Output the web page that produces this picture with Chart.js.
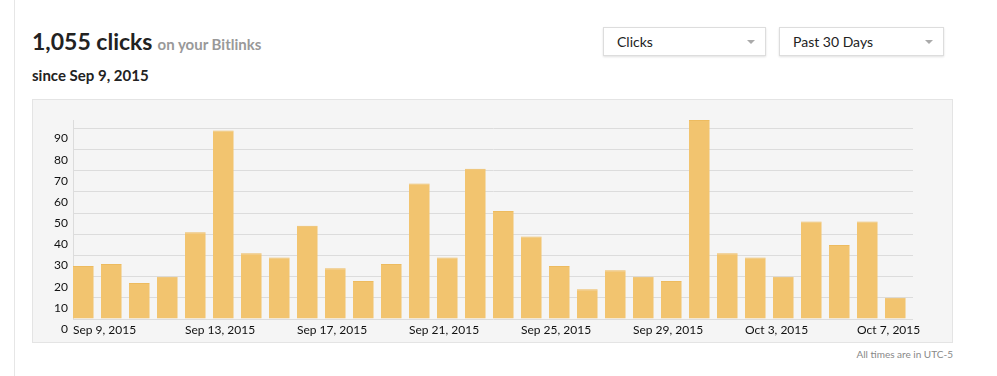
<!DOCTYPE html>
<html>
<head>
<meta charset="utf-8">
<script src="https://cdn.jsdelivr.net/npm/chart.js@4.4.0/dist/chart.umd.min.js"></script>
<style>
  body { margin: 0; background: #fff; font-family: Lato, "Open Sans", sans-serif; color: #222; }
  .rail { position: absolute; left: 14px; top: 0; width: 1px; height: 376px; background: #e6e6e6; }
  .title { position: absolute; left: 32px; top: 30px; line-height: 22px; white-space: nowrap; }
  .title b { font-size: 23px; font-weight: 700; color: #222; }
  .title span { font-size: 15px; font-weight: 700; color: #999; margin-left: 1px; }
  .since { position: absolute; left: 32px; top: 68px; font-size: 15px; line-height: 15px; font-weight: 700; }
  .drop { position: absolute; top: 27px; height: 29px; box-sizing: border-box; background: #fff;
          border: 1px solid #ddd; box-shadow: 0 1px 2px rgba(0,0,0,0.12); font-size: 14px;
          line-height: 27px; padding-left: 13px; }
  .drop:after { content: ""; position: absolute; right: 10px; top: 12px; border-left: 4px solid transparent;
          border-right: 4px solid transparent; border-top: 4px solid #aaa; }
  .panel { position: absolute; left: 32px; top: 99px; width: 921px; height: 244px; box-sizing: border-box;
           background: #f5f5f5; border: 1px solid #e4e4e4; }
  .panel canvas { position: absolute; left: 0; top: 0; }
  .note { position: absolute; right: 44px; top: 348px; font-size: 10px; color: #888; }
</style>
</head>
<body>
<div class="rail"></div>
<div class="title"><b>1,055 clicks</b> <span>on your Bitlinks</span></div>
<div class="since">since Sep 9, 2015</div>
<div class="drop" style="left:603px;width:163px">Clicks</div>
<div class="drop" style="left:779px;width:165px">Past 30 Days</div>
<div class="panel"><canvas id="clicks_chart" width="919" height="242"></canvas></div>
<div class="note">All times are in UTC-5</div>
<script>
// one bar per day, Sep 9 - Oct 8 2015
var days = ['Sep 9, 2015', 'Sep 10, 2015', 'Sep 11, 2015', 'Sep 12, 2015', 'Sep 13, 2015',
  'Sep 14, 2015', 'Sep 15, 2015', 'Sep 16, 2015', 'Sep 17, 2015', 'Sep 18, 2015',
  'Sep 19, 2015', 'Sep 20, 2015', 'Sep 21, 2015', 'Sep 22, 2015', 'Sep 23, 2015',
  'Sep 24, 2015', 'Sep 25, 2015', 'Sep 26, 2015', 'Sep 27, 2015', 'Sep 28, 2015',
  'Sep 29, 2015', 'Sep 30, 2015', 'Oct 1, 2015', 'Oct 2, 2015', 'Oct 3, 2015',
  'Oct 4, 2015', 'Oct 5, 2015', 'Oct 6, 2015', 'Oct 7, 2015', 'Oct 8, 2015'];
var clicks = [25, 26, 17, 20, 41, 89, 31, 29, 44, 24, 18, 26, 64, 29, 71, 51,
  39, 25, 14, 23, 20, 18, 94, 31, 29, 20, 46, 35, 46, 10];
var yTicks = [0, 10, 20, 30, 40, 50, 60, 70, 80, 90];
var labelEvery = 4;

var barPct = 0.74;
var context = document.getElementById('clicks_chart').getContext('2d');
var clicks_chart = new Chart(context, {
  type: 'bar',
  data: {
    datasets: [{
      label: 'Clicks',
      // bar sits at the left of its day slot, so centre = day + half a bar
      data: clicks.map(function (v, i) { return { x: i + barPct / 2, y: v }; }),
      backgroundColor: '#f2c46f',
      borderColor: '#edbb5f',
      borderWidth: { top: 1, left: 0, right: 0, bottom: 0 },
      borderSkipped: 'bottom',
      barPercentage: barPct,
      categoryPercentage: 1
    }]
  },
  options: {
    responsive: false,
    animation: false,
    layout: { padding: { left: 0, right: 39, top: 20, bottom: 0 } },
    plugins: { legend: { display: false }, tooltip: { enabled: false } },
    scales: {
      x: {
        type: 'linear',
        offset: false,
        min: 0,
        max: days.length,
        grid: { display: false, drawTicks: false },
        border: { display: false },
        afterFit: function (s) { s.height = 23; },
        ticks: {
          stepSize: labelEvery,
          includeBounds: false,
          align: 'start',
          padding: 4,
          maxRotation: 0,
          autoSkip: false,
          color: '#111',
          font: { family: 'Lato', size: 12 },
          callback: function (v) { return days[v]; }
        }
      },
      y: {
        min: 0,
        max: Math.max.apply(null, clicks),
        grid: { color: '#dcdcdc', lineWidth: 1, drawTicks: false },
        border: { display: true, color: '#dcdcdc' },
        afterFit: function (s) { s.width = 40; },
        afterBuildTicks: function (s) { s.ticks = yTicks.map(function (v) { return { value: v }; }); },
        ticks: {
          padding: 5,
          labelOffset: 10,
          color: '#111',
          font: { family: 'Lato', size: 12 }
        }
      }
    }
  }
});
</script>
</body>
</html>
